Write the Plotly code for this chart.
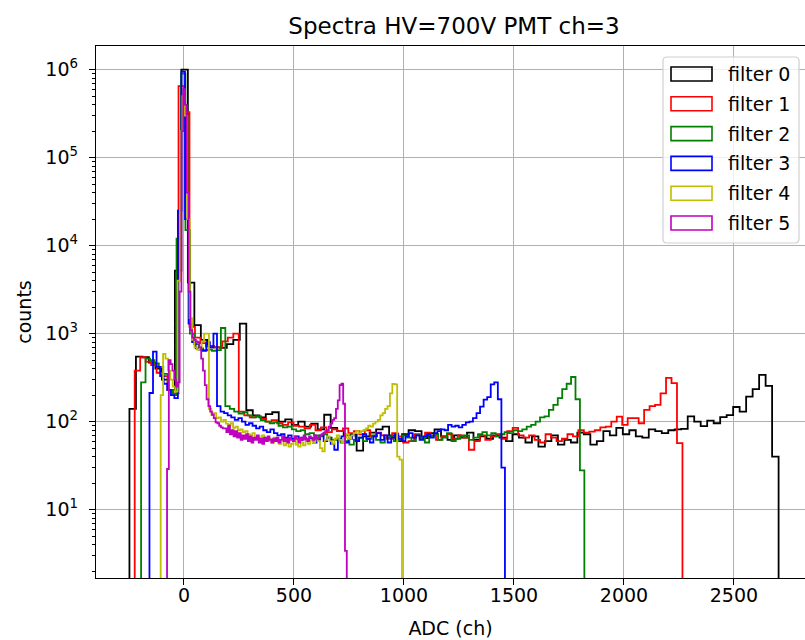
import numpy as np
import plotly.graph_objects as go

# ---------------- data ----------------
labels = ["filter 0", "filter 1", "filter 2", "filter 3", "filter 4", "filter 5"]
colors = ["#000000", "#ff0000", "#008000", "#0000ff", "#bfbf00", "#bf00bf"]

# histogram range (ADC) of each filter, 100 bins each
range_f0 = (-248, 2703)
range_f1 = (-224, 2266)
range_f2 = (-195, 1820)
range_f3 = (-157, 1459)
range_f4 = (-106, 991)
range_f5 = (-77, 740)

counts_f0 = [140, 550, 540, 470, 400, 300, 230, 5200, 1000000, 3800,
             1250, 850, 720, 700, 690, 760, 850, 1300, 135, 118,
             112, 122, 128, 100, 106, 92, 100, 88, 95, 82,
             120, 85, 78, 70, 72, 47, 68, 75, 82, 88,
             70, 60, 72, 80, 78, 65, 74, 82, 68, 62,
             70, 66, 75, 62, 68, 64, 70, 66, 60, 72,
             66, 58, 68, 52, 60, 70, 55, 62, 58, 75,
             72, 55, 60, 78, 70, 85, 72, 80, 68, 66,
             82, 78, 74, 80, 82, 83, 115, 100, 89, 103,
             96, 113, 119, 147, 130, 193, 235, 340, 255, 40]

counts_f1 = [380, 540, 480, 440, 360, 330, 230, 210, 650000, 330000,
             1200, 900, 780, 720, 700, 700, 820, 900, 1000, 130,
             118, 112, 115, 108, 100, 104, 96, 92, 98, 90,
             88, 84, 92, 80, 86, 76, 82, 78, 84, 74,
             78, 72, 80, 68, 75, 70, 64, 74, 68, 58,
             60, 72, 66, 75, 70, 62, 68, 72, 64, 70,
             66, 48, 60, 70, 62, 68, 72, 64, 78, 85,
             70, 66, 70, 62, 58, 72, 66, 60, 64, 72,
             68, 80, 75, 77, 80, 86, 88, 100, 114, 92,
             110, 110, 96, 136, 150, 155, 210, 315, 275, 57]

counts_f2 = [280, 520, 500, 460, 420, 350, 230, 200, 12000, 900000,
             15000, 1000, 760, 680, 650, 660, 640, 650, 1160, 150,
             140, 130, 124, 128, 118, 112, 115, 104, 100, 96,
             98, 90, 86, 88, 82, 78, 80, 72, 74, 70,
             68, 72, 66, 62, 64, 58, 60, 55, 62, 66,
             60, 64, 70, 62, 58, 66, 68, 60, 64, 70,
             66, 60, 70, 64, 58, 68, 72, 62, 66, 74,
             60, 64, 68, 70, 62, 66, 72, 76, 70, 74,
             68, 72, 76, 74, 80, 78, 82, 88, 92, 100,
             112, 115, 136, 155, 185, 235, 270, 322, 180, 28]

counts_f3 = [212, 625, 420, 330, 270, 230, 200, 185, 25000, 950000,
             20000, 1300, 800, 680, 660, 640, 800, 700, 1000, 150,
             130, 125, 118, 112, 105, 110, 100, 92, 96, 90,
             84, 88, 80, 76, 82, 74, 70, 72, 66, 70,
             64, 68, 62, 66, 60, 64, 58, 62, 70, 60,
             66, 56, 48, 62, 68, 58, 64, 70, 60, 66,
             72, 64, 58, 68, 74, 62, 70, 58, 66, 72,
             64, 60, 68, 74, 66, 70, 62, 68, 72, 66,
             74, 78, 82, 80, 92, 88, 90, 86, 92, 98,
             100, 110, 125, 148, 178, 190, 265, 280, 180, 30]

counts_f4 = [200, 590, 520, 380, 300, 250, 220, 4000, 200000, 500000,
             300000, 20000, 1500, 850, 700, 660, 680, 820, 1000, 1000,
             140, 120, 125, 110, 112, 100, 105, 95, 92, 96,
             85, 88, 80, 82, 76, 78, 72, 70, 74, 66,
             68, 64, 70, 62, 60, 64, 58, 66, 62, 56,
             60, 54, 58, 52, 56, 62, 55, 52, 58, 54,
             60, 56, 62, 58, 64, 60, 50, 46, 62, 68,
             60, 56, 64, 70, 62, 58, 66, 72, 64, 70,
             74, 78, 74, 78, 80, 84, 90, 88, 95, 100,
             105, 118, 125, 140, 150, 210, 268, 265, 40, 37]

counts_f5 = [29, 500, 450, 380, 300, 250, 280, 3000, 200000, 600000,
             400000, 40000, 3000, 1100, 900, 850, 820, 800, 700, 520,
             380, 260, 180, 150, 130, 120, 110, 98, 96, 90,
             86, 84, 84, 76, 90, 72, 80, 68, 78, 66,
             74, 62, 70, 64, 72, 60, 68, 58, 66, 62,
             70, 58, 64, 56, 66, 60, 68, 62, 58, 64,
             60, 66, 58, 62, 68, 60, 64, 58, 66, 62,
             60, 68, 64, 58, 66, 62, 70, 64, 60, 68,
             66, 62, 70, 64, 66, 70, 72, 75, 78, 80,
             88, 95, 105, 110, 140, 175, 260, 270, 160, 3.4]

x_ticks = [0, 500, 1000, 1500, 2000, 2500]
y_ticks = [1e1, 1e2, 1e3, 1e4, 1e5, 1e6]
y_ticktext = ["10<sup>1</sup>", "10<sup>2</sup>", "10<sup>3</sup>",
              "10<sup>4</sup>", "10<sup>5</sup>", "10<sup>6</sup>"]

ranges = [range_f0, range_f1, range_f2, range_f3, range_f4, range_f5]
counts = [counts_f0, counts_f1, counts_f2, counts_f3, counts_f4, counts_f5]

# ---------------- layout constants ----------------
W, H = 805, 640
ML, MR, MT, MB = 96, 0, 46, 62
FONT = "DejaVu Sans"
FS = 19       # 10 pt text
FS_T = 23     # 12 pt title
FLOOR = 1e-3  # zero-count baseline (below visible log range)


def pxx(px):
    return (px - ML) / (W - ML - MR)


def pxy(py):
    return (H - MB - py) / (H - MT - MB)


fig = go.Figure()

for lab, col, rng, cnt in zip(labels, colors, ranges, counts):
    edges = np.linspace(rng[0], rng[1], len(cnt) + 1)
    xs = [edges[0]] + list(edges[:-1]) + [edges[-1]]
    ys = [FLOOR] + list(cnt) + [FLOOR]
    fig.add_trace(go.Scatter(
        x=xs, y=ys, mode="lines", line=dict(color=col, width=1.8, shape="hv"),
        name=lab, showlegend=False, hoverinfo="skip"))

minor_vals = [m * 10 ** k for k in range(0, 7) for m in range(2, 10)]

fig.update_layout(
    width=W, height=H,
    margin=dict(l=ML, r=MR, t=MT, b=MB),
    paper_bgcolor="white", plot_bgcolor="white",
    font=dict(family=FONT, size=FS, color="black"),
    title=dict(text="Spectra HV=700V PMT ch=3", xref="container", yref="container",
               x=454 / W, y=1 - 26 / H, xanchor="center", yanchor="middle",
               font=dict(family=FONT, size=FS_T, color="black")),
    xaxis=dict(range=[-400, 2823], tickvals=x_ticks, ticks="outside", ticklen=6,
               tickwidth=1.4, tickcolor="black", showline=True, linecolor="black",
               linewidth=1.4, mirror=True, showgrid=True, gridcolor="#b0b0b0",
               gridwidth=1.4, zeroline=False, tickfont=dict(size=FS),
               ticklabelstandoff=-6,
               title=dict(text="ADC (ch)", font=dict(size=FS), standoff=16)),
    yaxis=dict(type="log", range=[0.224, 6.269], tickmode="array", tickvals=y_ticks,
               ticktext=y_ticktext, ticks="outside", ticklen=6, tickwidth=1.4,
               tickcolor="black", showline=True, linecolor="black", linewidth=1.4,
               showgrid=True, gridcolor="#b0b0b0", gridwidth=1.4, zeroline=False,
               tickfont=dict(size=FS), ticklabelstandoff=7,
               minor=dict(tickmode="array", tickvals=minor_vals, ticks="outside",
                          ticklen=3, tickwidth=1, tickcolor="black", showgrid=False),
               title=dict(text="counts", font=dict(size=FS), standoff=8)),
)

# ---------------- legend (matplotlib style, rounded frame) ----------------
lx0, lx1, ly0, ly1 = pxx(663), pxx(799), pxy(243), pxy(57)
rx, ry = 4 / (W - ML - MR), 4 / (H - MT - MB)
frame_path = (f"M{lx0 + rx},{ly0} L{lx1 - rx},{ly0} Q{lx1},{ly0} {lx1},{ly0 + ry} "
              f"L{lx1},{ly1 - ry} Q{lx1},{ly1} {lx1 - rx},{ly1} "
              f"L{lx0 + rx},{ly1} Q{lx0},{ly1} {lx0},{ly1 - ry} "
              f"L{lx0},{ly0 + ry} Q{lx0},{ly0} {lx0 + rx},{ly0} Z")
shapes = [dict(type="path", xref="paper", yref="paper", path=frame_path,
               line=dict(color="#d0d0d0", width=1.2),
               fillcolor="rgba(255,255,255,0.8)", layer="above")]
annotations = []
for i, (lab, col) in enumerate(zip(labels, colors)):
    cy = 74 + 29.8 * i
    shapes.append(dict(type="rect", xref="paper", yref="paper",
                       x0=pxx(671), x1=pxx(712), y0=pxy(cy + 7), y1=pxy(cy - 7),
                       line=dict(color=col, width=1.6), fillcolor="rgba(0,0,0,0)",
                       layer="above"))
    annotations.append(dict(text=lab, xref="paper", yref="paper", x=pxx(726),
                            y=pxy(cy), xanchor="left", yanchor="middle",
                            showarrow=False, font=dict(family=FONT, size=FS,
                                                       color="black")))
fig.update_layout(shapes=shapes, annotations=annotations)

fig.write_html("out.html")
